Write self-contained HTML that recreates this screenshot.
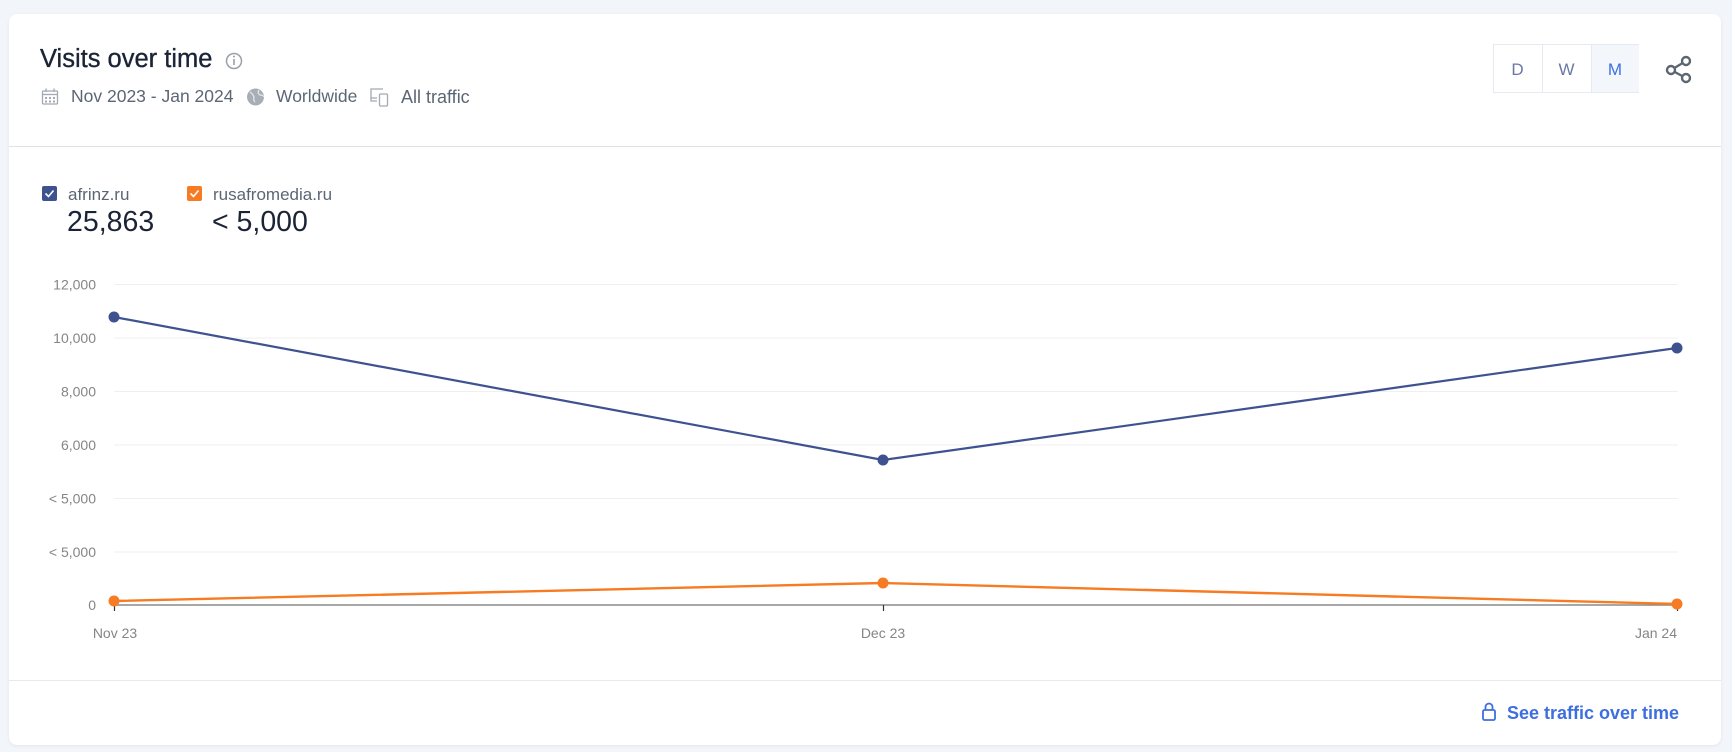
<!DOCTYPE html>
<html><head><meta charset="utf-8"><style>
html,body{margin:0;padding:0;}
body{width:1732px;height:752px;background:#f2f5f9;position:relative;overflow:hidden;font-family:"Liberation Sans",sans-serif;}
.card{position:absolute;left:9px;top:14px;width:1712px;height:731px;background:#fff;border-radius:8px;box-shadow:0 1px 3px rgba(40,60,90,0.08);}
.t{position:absolute;white-space:nowrap;line-height:1;}
</style></head><body>
<div class="card"></div>
<div class="t" style="left:40px;top:47px;font-size:25.5px;color:#1b2436;-webkit-text-stroke:0.35px #1b2436;">Visits over time</div>
<div class="t" style="left:71px;top:88px;font-size:17.5px;color:#5b6675;">Nov 2023 - Jan 2024</div>
<div class="t" style="left:276px;top:88px;font-size:17.5px;color:#5b6675;">Worldwide</div>
<div class="t" style="left:401px;top:88px;font-size:18px;color:#5b6675;">All traffic</div>

<!-- D W M -->
<div style="position:absolute;left:1493px;top:44px;width:146px;height:49px;border:1px solid #e6eaf0;box-sizing:border-box;background:#fff;"></div>
<div style="position:absolute;left:1591px;top:45px;width:48px;height:47px;background:#f3f6fb;"></div>
<div style="position:absolute;left:1542px;top:44px;width:1px;height:49px;background:#e6eaf0;"></div>
<div style="position:absolute;left:1591px;top:44px;width:1px;height:49px;background:#e6eaf0;"></div>
<div class="t" style="left:1493px;top:61px;width:49px;text-align:center;font-size:17px;color:#6b78a6;">D</div>
<div class="t" style="left:1542px;top:61px;width:49px;text-align:center;font-size:17px;color:#6b78a6;">W</div>
<div class="t" style="left:1591px;top:61px;width:48px;text-align:center;font-size:17px;color:#3d6fe3;">M</div>

<!-- header divider -->
<div style="position:absolute;left:9px;top:146px;width:1712px;height:1px;background:#dfe3e8;"></div>

<!-- legend -->
<div class="t" style="left:68px;top:186px;font-size:17px;color:#5b6675;">afrinz.ru</div>
<div class="t" style="left:213px;top:186px;font-size:17px;color:#5b6675;">rusafromedia.ru</div>
<div class="t" style="left:67px;top:208px;font-size:28.5px;color:#1b2436;">25,863</div>
<div class="t" style="left:212px;top:208px;font-size:28.5px;color:#1b2436;">&lt; 5,000</div>

<!-- footer -->
<div style="position:absolute;left:9px;top:680px;width:1712px;height:1px;background:#e6e9ee;"></div>
<div class="t" style="left:1507px;top:704px;font-size:18px;font-weight:bold;color:#3e6fe0;">See traffic over time</div>

<svg width="1732" height="752" style="position:absolute;left:0;top:0;" xmlns="http://www.w3.org/2000/svg">
  <!-- info icon -->
  <circle cx="234" cy="61" r="7.5" fill="none" stroke="#9aa0a8" stroke-width="1.5"/>
  <line x1="234" y1="59" x2="234" y2="65" stroke="#9aa0a8" stroke-width="1.6"/>
  <circle cx="234" cy="56.5" r="1" fill="#9aa0a8"/>
  <!-- calendar -->
  <g fill="none" stroke="#a3aab3" stroke-width="1.3">
    <rect x="42.5" y="91" width="15" height="13" rx="1"/>
    <line x1="42.5" y1="94.5" x2="57.5" y2="94.5"/>
    <line x1="46" y1="88.5" x2="46" y2="92"/>
    <line x1="54" y1="88.5" x2="54" y2="92"/>
  </g>
  <g fill="#a3aab3">
    <rect x="45" y="97" width="2" height="2"/><rect x="49" y="97" width="2" height="2"/><rect x="53" y="97" width="2" height="2"/>
    <rect x="45" y="100.5" width="2" height="2"/><rect x="49" y="100.5" width="2" height="2"/><rect x="53" y="100.5" width="2" height="2"/>
  </g>
  <!-- globe -->
  <circle cx="255.5" cy="97" r="8.5" fill="#a7aeb6"/>
  <path d="M250 92 q3 2 4 5 q-1 3 1 5 M259 90 q-2 3 1 5 q3 0 4 2" fill="none" stroke="#e4e7ea" stroke-width="1.3"/>
  <!-- devices -->
  <g fill="none" stroke="#a3aab3" stroke-width="1.3">
    <path d="M383 89 H371 V101 H377"/>
    <rect x="379.5" y="94" width="8" height="12" rx="1"/>
    <line x1="371" y1="98" x2="377" y2="98"/>
  </g>
  <!-- share -->
  <g fill="none" stroke="#5c6673" stroke-width="2.4">
    <line x1="1671" y1="70" x2="1686" y2="61"/>
    <line x1="1671" y1="70" x2="1686" y2="78"/>
    <circle cx="1686" cy="61" r="4" fill="#fff"/>
    <circle cx="1671" cy="70" r="4" fill="#fff"/>
    <circle cx="1686" cy="78" r="4" fill="#fff"/>
  </g>
  <!-- legend checkboxes -->
  <rect x="42" y="186" width="15" height="15" rx="2" fill="#3e5290"/>
  <path d="M45.5 193.5 l3 3 l5 -6" fill="none" stroke="#fff" stroke-width="1.6"/>
  <rect x="187" y="186" width="15" height="15" rx="2" fill="#f77b22"/>
  <path d="M190.5 193.5 l3 3 l5 -6" fill="none" stroke="#fff" stroke-width="1.6"/>

  <!-- gridlines -->
  <g stroke="#efefef" stroke-width="1">
    <line x1="114" y1="284.5" x2="1678" y2="284.5"/>
    <line x1="114" y1="338" x2="1678" y2="338"/>
    <line x1="114" y1="391.5" x2="1678" y2="391.5"/>
    <line x1="114" y1="445" x2="1678" y2="445"/>
    <line x1="114" y1="498.5" x2="1678" y2="498.5"/>
    <line x1="114" y1="552" x2="1678" y2="552"/>
  </g>
  <line x1="114" y1="605" x2="1678" y2="605" stroke="#8a8a8a" stroke-width="1.5"/>
  <g stroke="#333" stroke-width="1.2">
    <line x1="114.5" y1="605" x2="114.5" y2="611"/>
    <line x1="883.5" y1="605" x2="883.5" y2="611"/>
    <line x1="1677.5" y1="605" x2="1677.5" y2="611"/>
  </g>
  <!-- y labels -->
  <g font-family="Liberation Sans, sans-serif" font-size="14" fill="#858585" text-anchor="end">
    <text x="96" y="289.5">12,000</text>
    <text x="96" y="343">10,000</text>
    <text x="96" y="396.5">8,000</text>
    <text x="96" y="450">6,000</text>
    <text x="96" y="503.5">&lt; 5,000</text>
    <text x="96" y="557">&lt; 5,000</text>
    <text x="96" y="610">0</text>
  </g>
  <!-- x labels -->
  <g font-family="Liberation Sans, sans-serif" font-size="14" fill="#858585">
    <text x="115" y="638" text-anchor="middle">Nov 23</text>
    <text x="883" y="638" text-anchor="middle">Dec 23</text>
    <text x="1677" y="638" text-anchor="end">Jan 24</text>
  </g>
  <!-- series -->
  <polyline points="114,317 883,460 1677,348" fill="none" stroke="#3e5290" stroke-width="2.2"/>
  <g fill="#3e5290">
    <circle cx="114" cy="317" r="5.5"/><circle cx="883" cy="460" r="5.5"/><circle cx="1677" cy="348" r="5.5"/>
  </g>
  <polyline points="114,601 883,583 1677,604" fill="none" stroke="#f77b22" stroke-width="2.4"/>
  <g fill="#f77b22">
    <circle cx="114" cy="601" r="5.5"/><circle cx="883" cy="583" r="5.5"/><circle cx="1677" cy="604" r="5.5"/>
  </g>
  <!-- lock -->
  <g fill="none" stroke="#3e6fe0" stroke-width="1.8">
    <rect x="1483" y="710" width="12" height="10" rx="1.5"/>
    <path d="M1485.5 710 v-3 a3.5 3.5 0 0 1 7 0 v3"/>
  </g>
</svg>
</body></html>
